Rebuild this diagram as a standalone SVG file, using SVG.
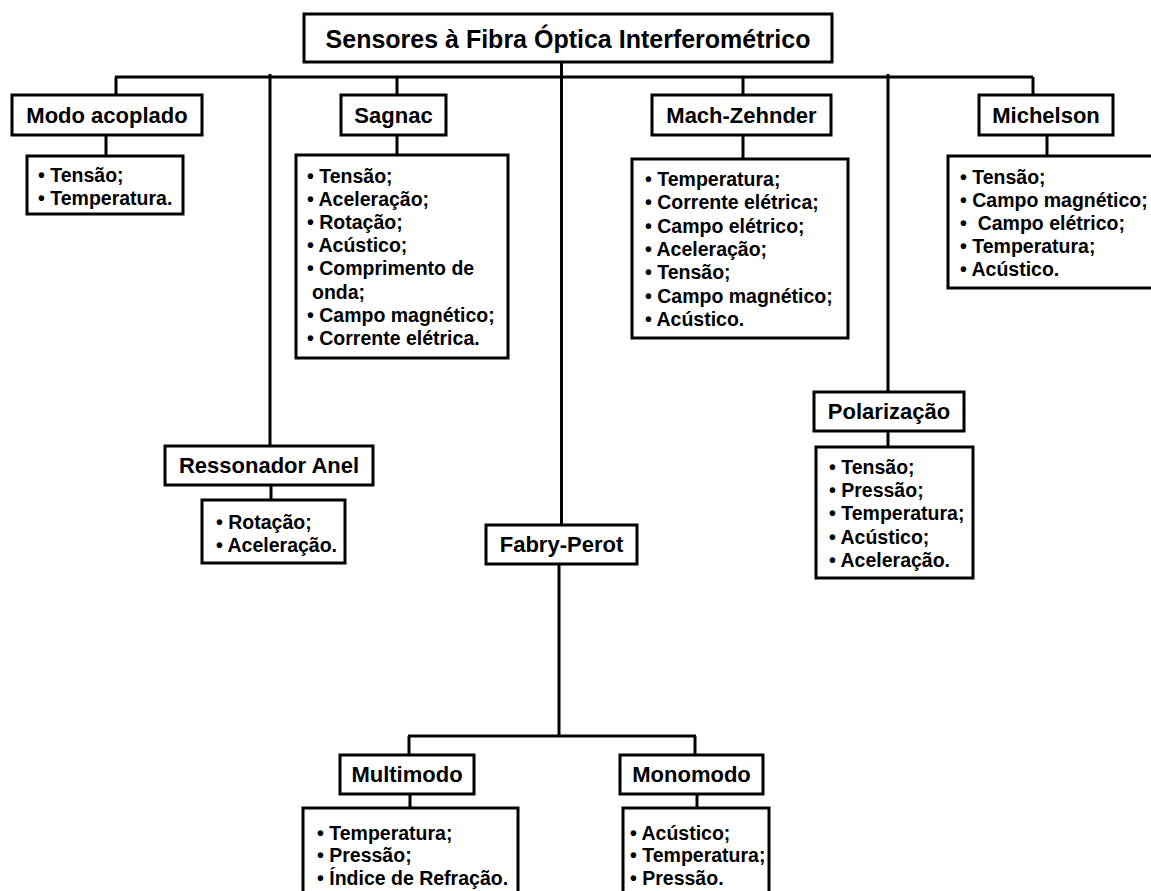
<svg xmlns="http://www.w3.org/2000/svg" width="1151" height="891" viewBox="0 0 1151 891">
  <style>
    .box { fill: #ffffff; stroke: #000000; stroke-width: 3; }
    .link { fill: none; stroke: #000000; stroke-width: 3; stroke-linecap: butt; }
    .root { font-family: "Liberation Sans", Arial, sans-serif; font-weight: bold; font-size: 25px; fill: #000; text-anchor: middle; }
    .title { font-family: "Liberation Sans", Arial, sans-serif; font-weight: bold; font-size: 22px; fill: #000; text-anchor: middle; }
    .item { font-family: "Liberation Sans", Arial, sans-serif; font-weight: bold; font-size: 19.5px; fill: #000; white-space: pre; }
  </style>
  <rect width="1151" height="891" fill="#ffffff"/>

  <!-- connectors -->
  <g id="connectors">
    <!-- root trunk and top bus -->
    <path class="link" d="M561.5,62 V526"/>
    <path class="link" d="M115,77 H1033"/>
    <path class="link" d="M116,77 V95"/>
    <path class="link" d="M270,74 V446"/>
    <path class="link" d="M397,77 V95"/>
    <path class="link" d="M743,77 V95"/>
    <path class="link" d="M888,74 V392"/>
    <path class="link" d="M1033,77 V95"/>
    <!-- title to list -->
    <path class="link" d="M106,135 V156"/>
    <path class="link" d="M397,135 V155"/>
    <path class="link" d="M743,135 V159"/>
    <path class="link" d="M1047,135 V156"/>
    <path class="link" d="M888,431 V447"/>
    <path class="link" d="M271,485 V500"/>
    <!-- Fabry-Perot branch -->
    <path class="link" d="M559,564 V736"/>
    <path class="link" d="M408,736 H696"/>
    <path class="link" d="M409,736 V755"/>
    <path class="link" d="M695,736 V755"/>
    <path class="link" d="M410,794 V808"/>
    <path class="link" d="M697,794 V808"/>
  </g>

  <!-- root -->
  <g id="root">
    <rect class="box" x="304" y="14" width="528" height="48"/>
    <text class="root" x="568" y="48">Sensores à Fibra Óptica Interferométrico</text>
  </g>

  <!-- Modo acoplado -->
  <g id="modo-acoplado">
    <rect class="box" x="12" y="95" width="190" height="40"/>
    <text class="title" x="107" y="123">Modo acoplado</text>
  </g>
  <g id="modo-acoplado-list">
    <rect class="box" x="27" y="156" width="156" height="58"/>
    <text class="item" x="38" y="182">• Tensão;</text>
    <text class="item" x="38" y="205">• Temperatura.</text>
  </g>

  <!-- Sagnac -->
  <g id="sagnac">
    <rect class="box" x="341" y="95" width="105" height="40"/>
    <text class="title" x="393.5" y="123">Sagnac</text>
  </g>
  <g id="sagnac-list">
    <rect class="box" x="296" y="155" width="212" height="203"/>
    <text class="item" x="307" y="183">• Tensão;</text>
    <text class="item" x="307" y="206">• Aceleração;</text>
    <text class="item" x="307" y="229">• Rotação;</text>
    <text class="item" x="307" y="252">• Acústico;</text>
    <text class="item" x="307" y="275">• Comprimento de</text>
    <text class="item" x="312" y="299">onda;</text>
    <text class="item" x="307" y="322">• Campo magnético;</text>
    <text class="item" x="307" y="345">• Corrente elétrica.</text>
  </g>

  <!-- Mach-Zehnder -->
  <g id="mach-zehnder">
    <rect class="box" x="652" y="95" width="179" height="40"/>
    <text class="title" x="741.5" y="123">Mach-Zehnder</text>
  </g>
  <g id="mach-zehnder-list">
    <rect class="box" x="632" y="159" width="216" height="179"/>
    <text class="item" x="645" y="186">• Temperatura;</text>
    <text class="item" x="645" y="209">• Corrente elétrica;</text>
    <text class="item" x="645" y="233">• Campo elétrico;</text>
    <text class="item" x="645" y="256">• Aceleração;</text>
    <text class="item" x="645" y="279">• Tensão;</text>
    <text class="item" x="645" y="303">• Campo magnético;</text>
    <text class="item" x="645" y="326">• Acústico.</text>
  </g>

  <!-- Michelson -->
  <g id="michelson">
    <rect class="box" x="979" y="95" width="134" height="40"/>
    <text class="title" x="1046" y="123">Michelson</text>
  </g>
  <g id="michelson-list">
    <rect class="box" x="948" y="156" width="206" height="132"/>
    <text class="item" x="960" y="184">• Tensão;</text>
    <text class="item" x="960" y="207">• Campo magnético;</text>
    <text class="item" x="960" y="230">•  Campo elétrico;</text>
    <text class="item" x="960" y="253">• Temperatura;</text>
    <text class="item" x="960" y="276">• Acústico.</text>
  </g>

  <!-- Polarização -->
  <g id="polarizacao">
    <rect class="box" x="814" y="392" width="150" height="39"/>
    <text class="title" x="889" y="419">Polarização</text>
  </g>
  <g id="polarizacao-list">
    <rect class="box" x="816" y="447" width="157" height="131"/>
    <text class="item" x="829" y="474">• Tensão;</text>
    <text class="item" x="829" y="497">• Pressão;</text>
    <text class="item" x="829" y="520">• Temperatura;</text>
    <text class="item" x="829" y="544">• Acústico;</text>
    <text class="item" x="829" y="567">• Aceleração.</text>
  </g>

  <!-- Ressonador Anel -->
  <g id="ressonador-anel">
    <rect class="box" x="165" y="446" width="208" height="39"/>
    <text class="title" x="269" y="473">Ressonador Anel</text>
  </g>
  <g id="ressonador-anel-list">
    <rect class="box" x="202" y="500" width="143" height="63"/>
    <text class="item" x="216" y="529">• Rotação;</text>
    <text class="item" x="216" y="552">• Aceleração.</text>
  </g>

  <!-- Fabry-Perot -->
  <g id="fabry-perot">
    <rect class="box" x="486" y="525" width="151" height="39"/>
    <text class="title" x="561.5" y="552">Fabry-Perot</text>
  </g>

  <!-- Multimodo -->
  <g id="multimodo">
    <rect class="box" x="340" y="755" width="134" height="39"/>
    <text class="title" x="407" y="782">Multimodo</text>
  </g>
  <g id="multimodo-list">
    <rect class="box" x="303" y="808" width="215" height="90"/>
    <text class="item" x="317" y="840">• Temperatura;</text>
    <text class="item" x="317" y="862">• Pressão;</text>
    <text class="item" x="317" y="885">• Índice de Refração.</text>
  </g>

  <!-- Monomodo -->
  <g id="monomodo">
    <rect class="box" x="620" y="755" width="143" height="39"/>
    <text class="title" x="691.5" y="782">Monomodo</text>
  </g>
  <g id="monomodo-list">
    <rect class="box" x="623" y="808" width="146" height="90"/>
    <text class="item" x="630" y="840">• Acústico;</text>
    <text class="item" x="630" y="862">• Temperatura;</text>
    <text class="item" x="630" y="885">• Pressão.</text>
  </g>
</svg>
